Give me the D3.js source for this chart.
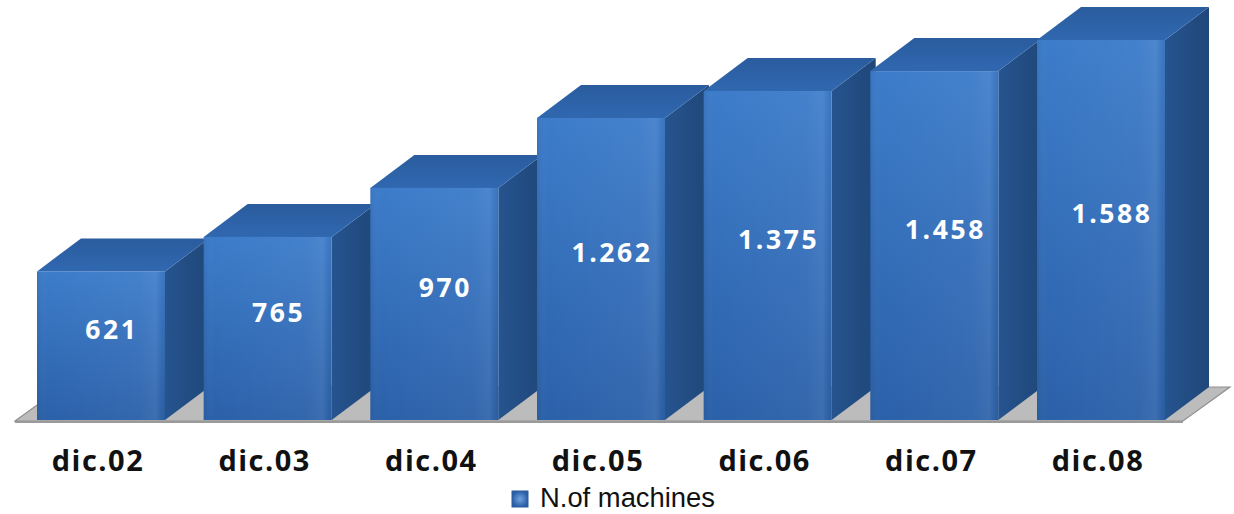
<!DOCTYPE html>
<html>
<head>
<meta charset="utf-8">
<script src="https://cdn.jsdelivr.net/npm/d3@7"></script>
<style>
  html, body { margin: 0; padding: 0; background: #ffffff; }
  svg { display: block; }
</style>
</head>
<body>
<svg id="chart" width="1234" height="514"></svg>
<script>
// Installed machines at each December
const categories = ["dic.02", "dic.03", "dic.04", "dic.05", "dic.06", "dic.07", "dic.08"];
const machines = [621, 765, 970, 1262, 1375, 1458, 1588];
const valueLabels = ["621", "765", "970", "1.262", "1.375", "1.458", "1.588"];
const seriesName = "N.of machines";

const W = 1234, H = 514;
const svg = d3.select("#chart");

// oblique depth of the 3D columns
const depthX = 44, depthY = -33;
const baseY = 420;

const x = d3.scaleBand()
  .domain(categories)
  .range([37, 1165])
  .paddingInner(0.232)
  .paddingOuter(0);

const y = d3.scaleLinear()
  .domain([0, 1600])
  .range([baseY, baseY - 1600 * 0.2393]);

const defs = svg.append("defs");

const frontGrad = defs.append("linearGradient")
  .attr("id", "frontGrad").attr("x1", 0).attr("y1", 0).attr("x2", 0).attr("y2", 1);
frontGrad.append("stop").attr("offset", "0%").attr("stop-color", "#3d7cca");
frontGrad.append("stop").attr("offset", "100%").attr("stop-color", "#2b61a9");

const frontSheen = defs.append("linearGradient")
  .attr("id", "frontSheen").attr("x1", 0).attr("y1", 0).attr("x2", 1).attr("y2", 0);
frontSheen.append("stop").attr("offset", "0%").attr("stop-color", "#000").attr("stop-opacity", 0.06);
frontSheen.append("stop").attr("offset", "8%").attr("stop-color", "#fff").attr("stop-opacity", 0.0);
frontSheen.append("stop").attr("offset", "80%").attr("stop-color", "#fff").attr("stop-opacity", 0.04);
frontSheen.append("stop").attr("offset", "93%").attr("stop-color", "#fff").attr("stop-opacity", 0.08);
frontSheen.append("stop").attr("offset", "100%").attr("stop-color", "#000").attr("stop-opacity", 0.05);

const sideGrad = defs.append("linearGradient")
  .attr("id", "sideGrad").attr("x1", 0).attr("y1", 0).attr("x2", 1).attr("y2", 0);
sideGrad.append("stop").attr("offset", "0%").attr("stop-color", "#26548f");
sideGrad.append("stop").attr("offset", "100%").attr("stop-color", "#1f4779");

const topGrad = defs.append("linearGradient")
  .attr("id", "topGrad").attr("x1", 0).attr("y1", 1).attr("x2", 0).attr("y2", 0);
topGrad.append("stop").attr("offset", "0%").attr("stop-color", "#3068b0");
topGrad.append("stop").attr("offset", "100%").attr("stop-color", "#2a5c9e");

const legendGrad = defs.append("radialGradient").attr("id", "legendGrad");
legendGrad.append("stop").attr("offset", "0%").attr("stop-color", "#6fa3e0");
legendGrad.append("stop").attr("offset", "100%").attr("stop-color", "#2a5fa6");

const line = d3.line();

// floor
const floorL = x.range()[0] - 22, floorR = x.range()[1] + 18, floorY = baseY + 1;
const fdx = depthX + 3, fdy = depthY - 1;
svg.append("path")
  .attr("d", line([[floorL, floorY], [floorL + fdx, floorY + fdy], [floorR + fdx, floorY + fdy], [floorR, floorY]]) + "Z")
  .attr("fill", "#bcbcbc")
  .attr("stroke", "#8f8f8f")
  .attr("stroke-width", 1.2);
svg.append("path")
  .attr("d", line([[floorL, floorY + 1], [floorR, floorY + 1]]))
  .attr("stroke", "#9a9a9a").attr("stroke-width", 2);

// columns, drawn left to right so each covers the previous one's side
const bars = svg.append("g").selectAll("g")
  .data(categories.map((c, i) => ({ c, v: machines[i], label: valueLabels[i] })))
  .join("g");

bars.each(function (d) {
  const g = d3.select(this);
  const x0 = x(d.c), x1 = x0 + x.bandwidth();
  const yt = y(d.v), yb = y(0);
  // right side
  g.append("path")
    .attr("d", line([[x1, yt], [x1 + depthX, yt + depthY], [x1 + depthX, yb + depthY], [x1, yb]]) + "Z")
    .attr("fill", "url(#sideGrad)");
  // top
  g.append("path")
    .attr("d", line([[x0, yt], [x0 + depthX, yt + depthY], [x1 + depthX, yt + depthY], [x1, yt]]) + "Z")
    .attr("fill", "url(#topGrad)");
  // front
  g.append("rect")
    .attr("x", x0).attr("y", yt).attr("width", x1 - x0).attr("height", yb - yt)
    .attr("fill", "url(#frontGrad)");
  g.append("rect")
    .attr("x", x0).attr("y", yt).attr("width", x1 - x0).attr("height", yb - yt)
    .attr("fill", "url(#frontSheen)");
  // value label
  g.append("text")
    .attr("x", (x0 + x1) / 2 + 11)
    .attr("y", (yb + yt + depthY) / 2)
    .attr("dy", "0.36em")
    .attr("text-anchor", "middle")
    .attr("fill", "#ffffff")
    .attr("font-family", "'Open Sans', sans-serif")
    .attr("font-weight", 700)
    .attr("font-size", 26.5)
    .attr("letter-spacing", 2.6)
    .text(d.label);
});

// category axis labels
const xAxis = d3.axisBottom(x).tickSize(0).tickPadding(0);
const axisG = svg.append("g")
  .attr("transform", `translate(-3, ${baseY + 51})`)
  .call(xAxis);
axisG.select(".domain").remove();
axisG.selectAll("text")
  .attr("dy", 0)
  .attr("fill", "#111111")
  .attr("font-family", "'Open Sans', sans-serif")
  .attr("font-weight", 700)
  .attr("font-size", 29)
  .attr("letter-spacing", 1.5);

// legend
const legend = svg.append("g").attr("transform", "translate(512, 491)");
legend.append("rect")
  .attr("width", 16).attr("height", 16)
  .attr("fill", "url(#legendGrad)")
  .attr("stroke", "#2a5b9c").attr("stroke-width", 1);
legend.append("text")
  .attr("x", 28).attr("y", 16)
  .attr("fill", "#111111")
  .attr("font-family", "'Liberation Sans', Arial, sans-serif")
  .attr("font-size", 27)
  .attr("textLength", 175)
  .attr("lengthAdjust", "spacingAndGlyphs")
  .text(seriesName);
</script>
</body>
</html>
